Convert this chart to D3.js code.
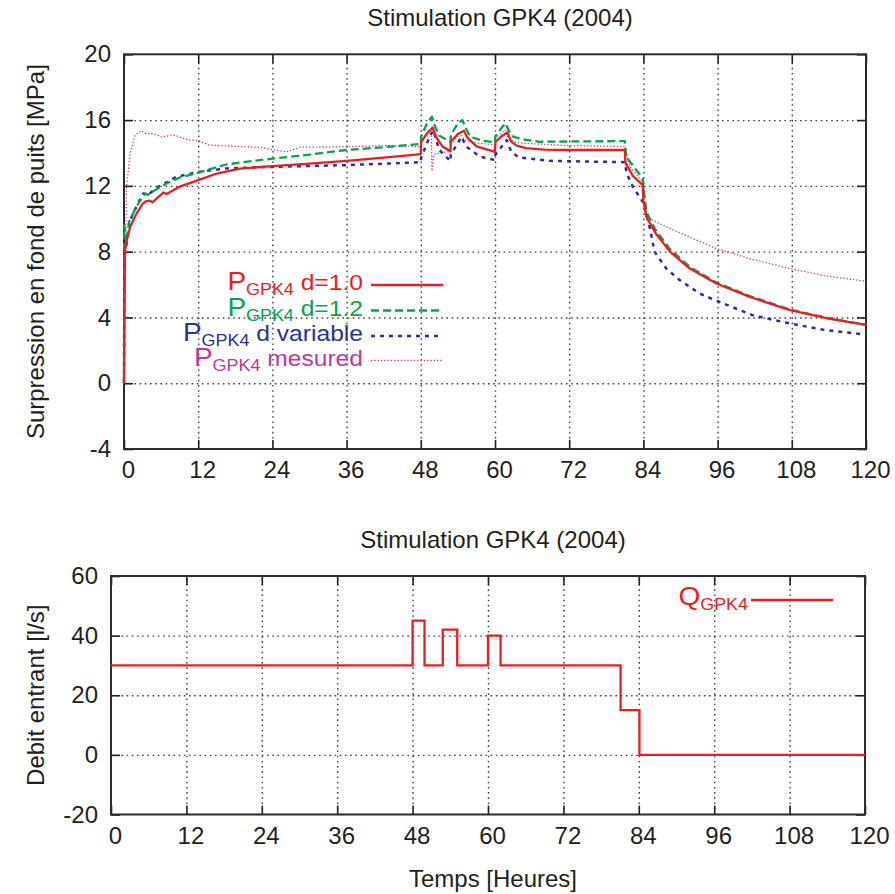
<!DOCTYPE html>
<html><head><meta charset="utf-8">
<script src="https://cdn.jsdelivr.net/npm/d3@7"></script>
<style>
body{margin:0;background:#fff}
svg{display:block}
text{font-family:"Liberation Sans",Arial,Helvetica,sans-serif;fill:#231f20}
</style>
</head><body>
<svg id="c" width="895" height="894"></svg>
<script>
// ---------- data ----------
const chartTitle = "Stimulation GPK4 (2004)";
const hourTicks = [0,12,24,36,48,60,72,84,96,108,120];
const pressureTicks = [-4,0,4,8,12,16,20];
const flowTicks = [-20,0,20,40,60];

// [hours, MPa]
const pD10 = [[0,0],[0.15,8.0],[0.5,8.8],[1,9.5],[2,10.3],[3,10.9],[3.5,11.05],[4.2,11.1],[4.6,11.0],[5.5,11.3],[6.4,11.6],[6.9,11.5],[9,11.95],[12,12.35],[15,12.75],[18.7,13.05],[24,13.2],[30,13.35],[36,13.52],[42,13.72],[48,13.93],[48.05,14.65],[49,15.2],[49.9,15.55],[50.5,14.95],[51.5,14.4],[52.8,14.1],[52.85,14.7],[54,15.15],[55,15.35],[55.5,14.95],[57,14.4],[60,14.07],[60.05,14.65],[61,15.0],[62,15.25],[62.6,14.7],[63.5,14.45],[65,14.3],[68,14.2],[72,14.18],[81,14.18],[81.1,13.4],[82.3,12.6],[83.9,12.05],[84.0,11.1],[84.5,10.1],[86,9.1],[88.3,8.0],[91.5,6.97],[95.8,6.06],[101.2,5.25],[107.7,4.44],[114,3.93],[120,3.55]];
const pD12 = [[0,0],[0.05,9.6],[0.4,8.5],[0.8,9.8],[2,10.73],[3.4,11.55],[3.8,11.45],[5,11.74],[6.9,12.15],[9,12.5],[12,12.8],[16.5,13.3],[22,13.57],[24,13.65],[30,13.9],[36,14.18],[42,14.35],[48,14.55],[48.05,15.0],[49,15.8],[49.8,16.2],[50.3,15.6],[51,15.05],[52.8,14.68],[52.85,15.1],[54,15.8],[54.7,16.0],[55.3,15.5],[56,14.98],[58,14.75],[60,14.64],[60.05,15.0],[61,15.5],[61.7,15.8],[62.3,15.3],[63,14.98],[65,14.8],[67.2,14.68],[72,14.7],[81,14.72],[81.2,13.77],[83.9,12.45],[84.0,11.94],[84.5,10.4],[86,9.3],[88.3,8.15],[91.5,7.07],[95.8,6.12],[101.2,5.3],[107.7,4.48],[114,3.95],[120,3.55]];
const pDvar = [[0,0],[0.05,9.4],[0.4,8.4],[1,9.92],[2,10.73],[3.1,11.54],[3.7,11.4],[5.5,11.94],[8.5,12.55],[12,12.85],[16.5,13.06],[24,13.16],[36,13.26],[48,13.44],[48.05,13.7],[49.2,14.78],[50,15.39],[51,14.18],[52.8,13.5],[52.85,13.9],[54.6,14.98],[55.3,14.4],[57.6,13.77],[60,13.57],[60.05,13.9],[61.9,14.78],[62.6,14.1],[63.8,13.73],[68.9,13.52],[81,13.44],[81.3,12.75],[82.3,11.94],[83.9,11.03],[85,9.51],[85.8,8.0],[87.7,6.97],[89.9,6.26],[93.1,5.45],[96.9,4.85],[101.7,4.13],[107.7,3.63],[113.6,3.22],[120,2.95]];
const pMeasured = [[0,0],[0.2,6],[0.4,11.9],[1,13.97],[1.8,15.09],[2.8,15.35],[3.4,15.2],[5,15.15],[6,14.97],[8,15.1],[10.3,14.8],[12,14.74],[13.8,14.48],[19.3,14.38],[22,14.34],[24,14.2],[26.3,14.07],[28.5,14.35],[36,14.38],[42,14.45],[48,14.38],[48.1,14.8],[49,15.1],[49.7,15.3],[49.8,12.9],[50.1,13.9],[51,14.0],[52.8,14.1],[52.9,14.5],[54.3,15.2],[55,14.8],[57,14.6],[60,14.5],[60.1,14.9],[61.6,15.4],[62.3,14.8],[64,14.6],[67,14.54],[72,14.45],[81,14.4],[81.8,13.16],[83.6,12.4],[84.2,10.52],[85,10.0],[87.7,9.51],[92,8.8],[95.8,8.19],[101.2,7.58],[107.7,6.97],[113.6,6.52],[120,6.2]];

const seriesLabels = ["d=1.0","d=1.2","d variable","mesured"];
const seriesColors = ["#ed1c24","#00a650","#2e3192","#c1379b"];

// injection flow [l/s], step function
const qTimes  = [0,48,49.9,52.8,55.1,60,62,81.1,84.1,120];
const qValues = [30,45,30,42,30,40,30,15,0,0];

// ---------- drawing ----------
const svg = d3.select("#c");
const FS = 24;
const fmt = d => String(d);

function panel(o){
  const g = svg.append("g");
  const x = d3.scaleLinear().domain([0,120]).range([o.left,o.right]);
  const y = d3.scaleLinear().domain(o.ydom).range([o.bottom,o.top]);
  const h = o.bottom-o.top, w = o.right-o.left;
  const gridStyle = s=>{s.select(".domain").remove();s.selectAll("line").attr("stroke","#444").attr("stroke-width",1.4).attr("stroke-dasharray","1.6,3.6");};
  g.append("g").attr("transform",`translate(0,${o.bottom})`)
    .call(d3.axisBottom(x).tickValues(hourTicks.slice(1,-1)).tickSize(-h).tickFormat("")).call(gridStyle);
  g.append("g").attr("transform",`translate(${o.left},0)`)
    .call(d3.axisLeft(y).tickValues(o.yticks.slice(1,-1)).tickSize(-w).tickFormat("")).call(gridStyle);
  const tk = s=>{s.select(".domain").remove();s.selectAll("line").attr("stroke","#222").attr("stroke-width",1.6);};
  g.append("g").attr("transform",`translate(0,${o.bottom})`).call(d3.axisBottom(x).tickValues(hourTicks).tickSize(-9).tickFormat("")).call(tk);
  g.append("g").attr("transform",`translate(0,${o.top})`).call(d3.axisTop(x).tickValues(hourTicks).tickSize(-9).tickFormat("")).call(tk);
  g.append("g").attr("transform",`translate(${o.left},0)`).call(d3.axisLeft(y).tickValues(o.yticks).tickSize(-9).tickFormat("")).call(tk);
  g.append("g").attr("transform",`translate(${o.right},0)`).call(d3.axisRight(y).tickValues(o.yticks).tickSize(-9).tickFormat("")).call(tk);
  const lab = s=>{s.select(".domain").remove();s.selectAll("text").attr("font-size",FS).attr("font-family","Liberation Sans, Arial, sans-serif").attr("fill","#231f20");};
  g.append("g").attr("transform",`translate(4,${o.bottom})`)
    .call(d3.axisBottom(x).tickValues(hourTicks).tickSize(0).tickPadding(12).tickFormat(fmt)).call(lab);
  g.append("g").attr("transform",`translate(${o.left},0)`)
    .call(d3.axisLeft(y).tickValues(o.yticks).tickSize(0).tickPadding(13).tickFormat(fmt)).call(lab);
  g.append("rect").attr("x",o.left).attr("y",o.top).attr("width",w).attr("height",h)
    .attr("fill","none").attr("stroke","#2b2b2b").attr("stroke-width",2);
  svg.append("text").attr("x",(o.left+o.right)/2+5).attr("y",o.titleY).attr("text-anchor","middle")
    .attr("font-size",FS).text(chartTitle);
  svg.append("text").attr("transform",`translate(44,${(o.top+o.bottom)/2}) rotate(-90)`)
    .attr("text-anchor","middle").attr("font-size",FS).text(o.ylabel);
  return {g,x,y};
}

// top panel
const topP = panel({left:124,right:866,top:54.3,bottom:449,ydom:[-4,20],yticks:pressureTicks,titleY:26,ylabel:"Surpression en fond de puits [MPa]"});
const lineT = d3.line().x(d=>topP.x(d[0])).y(d=>topP.y(d[1]));
const series = [pD10,pD12,pDvar,pMeasured];
const dashes = [null,"8,4","4,5","1.3,2"];
const widths = [2.3,2.3,2.5,1.3];
[3,2,1,0].forEach(i=>{
  topP.g.append("path").datum(series[i]).attr("d",lineT).attr("fill","none")
    .attr("stroke",seriesColors[i]).attr("stroke-width",widths[i])
    .attr("stroke-dasharray",dashes[i]).attr("stroke-linejoin","round");
});
const legY = [285,310.5,336,360.5];
seriesLabels.forEach((lab,i)=>{
  const lg = topP.g.append("g").attr("transform",`translate(363,${legY[i]+5}) scale(1.12,1)`);
  const t = lg.append("text").attr("text-anchor","end").attr("fill",seriesColors[i]);
  t.append("tspan").attr("font-size",25).attr("fill",seriesColors[i]).text("P");
  t.append("tspan").attr("font-size",16).attr("dy",5).attr("fill",seriesColors[i]).text("GPK4");
  t.append("tspan").attr("font-size",22).attr("dy",-5).attr("fill",seriesColors[i]).text(" "+lab);
  topP.g.append("line").attr("x1",371).attr("x2",443).attr("y1",legY[i]).attr("y2",legY[i])
    .attr("stroke",seriesColors[i]).attr("stroke-width",widths[i]).attr("stroke-dasharray",dashes[i]);
});

// bottom panel
const botP = panel({left:111,right:865,top:576,bottom:814.5,ydom:[-20,60],yticks:flowTicks,titleY:548,ylabel:"Debit entrant [l/s]"});
const lineB = d3.line().x((d,i)=>botP.x(qTimes[i])).y(d=>botP.y(d)).curve(d3.curveStepAfter);
botP.g.append("path").datum(qValues).attr("d",lineB).attr("fill","none")
  .attr("stroke","#ed1c24").attr("stroke-width",2.3);
const ql = botP.g.append("g").attr("transform",`translate(748,605) scale(1.12,1)`);
const qt = ql.append("text").attr("text-anchor","end").attr("fill","#ed1c24");
qt.append("tspan").attr("font-size",25).attr("fill","#ed1c24").text("Q");
qt.append("tspan").attr("font-size",16).attr("dy",5).attr("fill","#ed1c24").text("GPK4");
botP.g.append("line").attr("x1",751).attr("x2",833).attr("y1",600).attr("y2",600)
  .attr("stroke","#ed1c24").attr("stroke-width",2.3);

svg.append("text").attr("x",493).attr("y",887).attr("text-anchor","middle").attr("font-size",FS).text("Temps [Heures]");
</script>
</body></html>
